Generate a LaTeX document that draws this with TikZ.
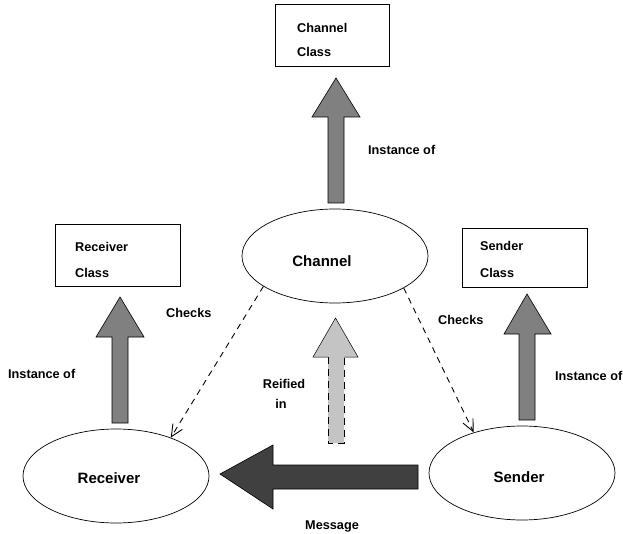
\documentclass[tikz,border=0pt]{standalone}
\usepackage{fontspec}
\setmainfont{Liberation Sans}
\usetikzlibrary{arrows.meta,shapes.geometric}
\definecolor{midgray}{HTML}{808080}
\definecolor{lightgray2}{HTML}{C4C4C4}
\definecolor{darkgray2}{HTML}{404040}
\begin{document}
\begin{tikzpicture}[x=1pt,y=-1pt,
  lbl/.style={font=\bfseries\fontsize{12.7}{14}\selectfont,inner sep=0pt,text height=9pt,text depth=0pt},
  ell/.style={draw,ellipse,line width=0.7pt,minimum width=186pt,minimum height=94pt,inner sep=0pt},
  ellbl/.style={font=\bfseries\fontsize{15}{17}\selectfont,inner sep=0pt},
  classbox/.style={draw,line width=0.7pt},
  blockarrow/.style={draw,line width=0.6pt,fill=#1},
  checkline/.style={draw,line width=0.9pt,dash pattern=on 6pt off 5pt,-{Straight Barb[length=12pt,width=11pt,line width=0.9pt]}}
]
\useasboundingbox (0,0) rectangle (623,534);

% class boxes
\draw[classbox] (275,4) rectangle (389,66);
\node[lbl,anchor=west] (cct1) at (297,28) {Channel};
\node[lbl,anchor=west] (cct2) at (297,52) {Class};
\draw[classbox] (55,224) rectangle (180,286);
\node[lbl,anchor=west] (rct1) at (75,247) {Receiver};
\node[lbl,anchor=west] (rct2) at (75,273) {Class};
\draw[classbox] (462,228) rectangle (587,287);
\node[lbl,anchor=west] (sct1) at (480,246) {Sender};
\node[lbl,anchor=west] (sct2) at (480,273) {Class};

% ellipses
\node[ell] (ch) at (335,256) {};
\node[ellbl] (cht) at (322,261) {Channel};
\node[ell] (rc) at (116,476) {};
\node[ellbl] (rct) at (109,478) {Receiver};
\node[ell] (sd) at (522,473) {};
\node[ellbl] (sdt) at (519,477) {Sender};

% instance-of block arrows
\draw[blockarrow=midgray] (328,203) -- (328,117) -- (312,117) -- (336,78) -- (360,117) -- (344,117) -- (344,203) -- cycle;
\draw[blockarrow=midgray] (112,423) -- (112,337) -- (96,337) -- (120,297) -- (144,337) -- (128,337) -- (128,423) -- cycle;
\draw[blockarrow=midgray] (519,420) -- (519,334) -- (504,334) -- (527,294) -- (551,334) -- (535,334) -- (535,420) -- cycle;

% reified arrow
\fill[lightgray2] (328,443) -- (328,357) -- (313,357) -- (335.5,318) -- (358,357) -- (344,357) -- (344,443) -- cycle;
\draw[line width=0.5pt] (328,357) -- (313,357) -- (335.5,318) -- (358,357) -- (344,357);
\draw[line width=0.7pt,dash pattern=on 7pt off 5pt] (328,357) -- (328,443) -- (344,443) -- (344,357);

% message arrow
\draw[blockarrow=darkgray2] (418,465) -- (273,465) -- (273,445) -- (220,474) -- (273,509) -- (273,489) -- (418,489) -- cycle;

% checks
\draw[checkline] (ch.203) -- (rc.35);
\draw[checkline] (ch.-25) -- (sd.140);

% labels
\node[lbl,anchor=west] (io1) at (368,150) {Instance of};
\node[lbl,anchor=west] (io2) at (8,374) {Instance of};
\node[lbl,anchor=west] (io3) at (555,376) {Instance of};
\node[lbl,anchor=west] (ck1) at (166,313) {Checks};
\node[lbl,anchor=west] (ck2) at (438,320) {Checks};
\node[lbl] (rf1) at (284,384) {Reified};
\node[lbl] (rf2) at (281,404) {in};
\node[lbl] (msg) at (332,525) {Message};
\end{tikzpicture}
\end{document}
